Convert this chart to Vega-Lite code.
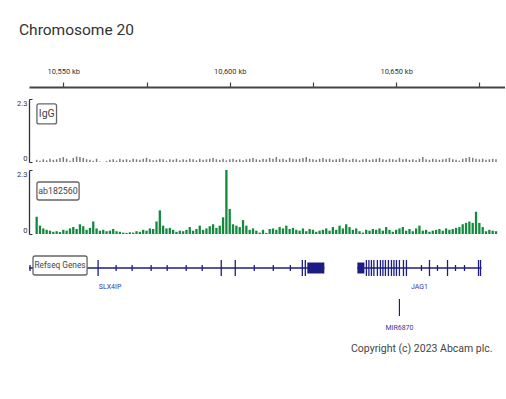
{
  "$schema": "https://vega.github.io/schema/vega-lite/v6.json",
  "background": "white",
  "padding": {"left": 16, "top": 22, "right": 0, "bottom": 0},
  "title": {"text": "Chromosome 20", "anchor": "start", "frame": "group", "fontSize": 15.5, "font": "Roboto", "fontWeight": "normal", "color": "#333333", "dx": -10, "offset": 29},
  "config": {"view": {"stroke": null}, "font": "Roboto"},
  "bounds": "flush",
  "spacing": 8,
  "datasets": {
    "signal": [
      {"kb":10542,"ab":0.62,"igg":0.08},{"kb":10543,"ab":0.3,"igg":0.05},{"kb":10544,"ab":0.2,"igg":0.1},{"kb":10545,"ab":0.15,"igg":0.06},{"kb":10546,"ab":0.12,"igg":0.12},{"kb":10547,"ab":0.08,"igg":0.08},{"kb":10548,"ab":0.1,"igg":0.1},{"kb":10549,"ab":0.07,"igg":0.15},{"kb":10550,"ab":0.15,"igg":0.18},{"kb":10551,"ab":0.12,"igg":0.12},
      {"kb":10552,"ab":0.2,"igg":0.05},{"kb":10553,"ab":0.25,"igg":0.15},{"kb":10554,"ab":0.18,"igg":0.2},{"kb":10555,"ab":0.35,"igg":0.18},{"kb":10556,"ab":0.28,"igg":0.15},{"kb":10557,"ab":0.15,"igg":0.1},{"kb":10558,"ab":0.22,"igg":0.08},{"kb":10559,"ab":0.45,"igg":0.05},{"kb":10560,"ab":0.2,"igg":0.12},{"kb":10561,"ab":0.12,"igg":0.02},
      {"kb":10562,"ab":0.15,"igg":0},{"kb":10563,"ab":0.1,"igg":0.03},{"kb":10564,"ab":0.12,"igg":0.08},{"kb":10565,"ab":0.18,"igg":0.1},{"kb":10566,"ab":0.1,"igg":0.05},{"kb":10567,"ab":0.08,"igg":0.12},{"kb":10568,"ab":0.05,"igg":0.08},{"kb":10569,"ab":0.04,"igg":0.1},{"kb":10570,"ab":0.06,"igg":0.06},{"kb":10571,"ab":0.05,"igg":0.12},
      {"kb":10572,"ab":0.1,"igg":0.1},{"kb":10573,"ab":0.08,"igg":0.08},{"kb":10574,"ab":0.15,"igg":0.12},{"kb":10575,"ab":0.12,"igg":0.15},{"kb":10576,"ab":0.2,"igg":0.1},{"kb":10577,"ab":0.18,"igg":0.06},{"kb":10578,"ab":0.45,"igg":0.08},{"kb":10579,"ab":0.85,"igg":0.12},{"kb":10580,"ab":0.3,"igg":0.1},{"kb":10581,"ab":0.2,"igg":0.05},
      {"kb":10582,"ab":0.22,"igg":0.1},{"kb":10583,"ab":0.15,"igg":0.08},{"kb":10584,"ab":0.08,"igg":0.12},{"kb":10585,"ab":0.12,"igg":0.06},{"kb":10586,"ab":0.1,"igg":0.1},{"kb":10587,"ab":0.15,"igg":0.08},{"kb":10588,"ab":0.25,"igg":0.12},{"kb":10589,"ab":0.12,"igg":0.1},{"kb":10590,"ab":0.18,"igg":0.06},{"kb":10591,"ab":0.3,"igg":0.12},
      {"kb":10592,"ab":0.15,"igg":0.08},{"kb":10593,"ab":0.2,"igg":0.1},{"kb":10594,"ab":0.28,"igg":0.12},{"kb":10595,"ab":0.35,"igg":0.15},{"kb":10596,"ab":0.22,"igg":0.1},{"kb":10597,"ab":0.3,"igg":0.08},{"kb":10598,"ab":0.6,"igg":0.12},{"kb":10599,"ab":2.3,"igg":0.06},{"kb":10600,"ab":0.9,"igg":0.1},{"kb":10601,"ab":0.35,"igg":0.12},
      {"kb":10602,"ab":0.3,"igg":0.08},{"kb":10603,"ab":0.25,"igg":0.1},{"kb":10604,"ab":0.5,"igg":0.06},{"kb":10605,"ab":0.3,"igg":0.1},{"kb":10606,"ab":0.15,"igg":0.12},{"kb":10607,"ab":0.2,"igg":0.15},{"kb":10608,"ab":0.12,"igg":0.1},{"kb":10609,"ab":0.05,"igg":0.08},{"kb":10610,"ab":0.15,"igg":0.12},{"kb":10611,"ab":0.04,"igg":0.1},
      {"kb":10612,"ab":0.18,"igg":0.15},{"kb":10613,"ab":0.2,"igg":0.12},{"kb":10614,"ab":0.15,"igg":0.18},{"kb":10615,"ab":0.25,"igg":0.1},{"kb":10616,"ab":0.2,"igg":0.12},{"kb":10617,"ab":0.3,"igg":0.08},{"kb":10618,"ab":0.18,"igg":0.15},{"kb":10619,"ab":0.22,"igg":0.12},{"kb":10620,"ab":0.15,"igg":0.1},{"kb":10621,"ab":0.12,"igg":0.12},
      {"kb":10622,"ab":0.2,"igg":0.15},{"kb":10623,"ab":0.1,"igg":0.18},{"kb":10624,"ab":0.18,"igg":0.12},{"kb":10625,"ab":0.15,"igg":0.1},{"kb":10626,"ab":0.08,"igg":0.08},{"kb":10627,"ab":0.12,"igg":0.12},{"kb":10628,"ab":0.15,"igg":0.15},{"kb":10629,"ab":0.2,"igg":0.1},{"kb":10630,"ab":0.12,"igg":0.12},{"kb":10631,"ab":0.25,"igg":0.08},
      {"kb":10632,"ab":0.15,"igg":0.1},{"kb":10633,"ab":0.3,"igg":0.12},{"kb":10634,"ab":0.2,"igg":0.15},{"kb":10635,"ab":0.35,"igg":0.1},{"kb":10636,"ab":0.25,"igg":0.08},{"kb":10637,"ab":0.15,"igg":0.12},{"kb":10638,"ab":0.2,"igg":0.1},{"kb":10639,"ab":0.1,"igg":0.06},{"kb":10640,"ab":0.05,"igg":0.1},{"kb":10641,"ab":0.15,"igg":0.12},
      {"kb":10642,"ab":0.12,"igg":0.08},{"kb":10643,"ab":0.18,"igg":0.1},{"kb":10644,"ab":0.15,"igg":0.12},{"kb":10645,"ab":0.2,"igg":0.15},{"kb":10646,"ab":0.12,"igg":0.1},{"kb":10647,"ab":0.25,"igg":0.08},{"kb":10648,"ab":0.15,"igg":0.12},{"kb":10649,"ab":0.08,"igg":0.1},{"kb":10650,"ab":0.15,"igg":0.08},{"kb":10651,"ab":0.2,"igg":0.15},
      {"kb":10652,"ab":0.25,"igg":0.1},{"kb":10653,"ab":0.12,"igg":0.12},{"kb":10654,"ab":0.18,"igg":0.08},{"kb":10655,"ab":0.1,"igg":0.1},{"kb":10656,"ab":0.2,"igg":0.06},{"kb":10657,"ab":0.3,"igg":0.12},{"kb":10658,"ab":0.12,"igg":0.18},{"kb":10659,"ab":0.15,"igg":0.1},{"kb":10660,"ab":0.08,"igg":0.08},{"kb":10661,"ab":0.12,"igg":0.12},
      {"kb":10662,"ab":0.15,"igg":0.1},{"kb":10663,"ab":0.18,"igg":0.08},{"kb":10664,"ab":0.12,"igg":0.1},{"kb":10665,"ab":0.2,"igg":0.12},{"kb":10666,"ab":0.15,"igg":0.15},{"kb":10667,"ab":0.18,"igg":0.1},{"kb":10668,"ab":0.22,"igg":0.08},{"kb":10669,"ab":0.25,"igg":0.05},{"kb":10670,"ab":0.35,"igg":0.12},{"kb":10671,"ab":0.4,"igg":0.15},
      {"kb":10672,"ab":0.45,"igg":0.18},{"kb":10673,"ab":0.4,"igg":0.15},{"kb":10674,"ab":0.8,"igg":0.12},{"kb":10675,"ab":0.4,"igg":0.1},{"kb":10676,"ab":0.25,"igg":0.12},{"kb":10677,"ab":0.1,"igg":0.08},{"kb":10678,"ab":0.15,"igg":0.1},{"kb":10679,"ab":0.12,"igg":0.12},{"kb":10680,"ab":0.1,"igg":0.1}
    ],
    "genes": [
      {"name":"SLX4IP","start":10540.6,"end":10628.07,"label":10565.05},
      {"name":"JAG1","start":10637.78,"end":10674.3,"label":10656.04}
    ],
    "blocks": [
      {"gene":"SLX4IP","start":10623.06,"end":10628.07},
      {"gene":"JAG1","start":10637.78,"end":10639.85}
    ],
    "exons": [
      {"pos":10541.5,"kind":"small"},{"pos":10561.52,"kind":"tall"},{"pos":10566.82,"kind":"small"},{"pos":10571.53,"kind":"small"},{"pos":10577.12,"kind":"small"},{"pos":10581.84,"kind":"small"},{"pos":10587.43,"kind":"small"},{"pos":10592.14,"kind":"small"},{"pos":10597.74,"kind":"tall"},{"pos":10601.86,"kind":"tall"},{"pos":10607.45,"kind":"small"},{"pos":10613.05,"kind":"small"},{"pos":10618.06,"kind":"small"},{"pos":10621.59,"kind":"tall"},{"pos":10622.47,"kind":"tall"},
      {"pos":10640.43,"kind":"tall"},{"pos":10641.17,"kind":"tall"},{"pos":10641.91,"kind":"tall"},{"pos":10642.64,"kind":"tall"},{"pos":10643.67,"kind":"tall"},{"pos":10644.56,"kind":"tall"},{"pos":10645.29,"kind":"tall"},{"pos":10646.03,"kind":"tall"},{"pos":10646.91,"kind":"tall"},{"pos":10647.8,"kind":"tall"},{"pos":10648.53,"kind":"tall"},{"pos":10649.27,"kind":"tall"},{"pos":10650.15,"kind":"tall"},{"pos":10651.33,"kind":"tall"},{"pos":10652.21,"kind":"tall"},
      {"pos":10656.63,"kind":"small"},{"pos":10658.99,"kind":"tall"},{"pos":10661.34,"kind":"small"},{"pos":10664.29,"kind":"tall"},{"pos":10666.64,"kind":"small"},{"pos":10669.29,"kind":"small"},{"pos":10673.41,"kind":"tall"},{"pos":10674.0,"kind":"tall"}
    ],
    "mirna": [{"name":"MIR6870","pos":10650.15}]
  },
  "vconcat": [
    {
      "width": 476, "height": 63,
      "layer": [
        {
          "data": {"name": "signal"},
          "mark": {"type": "bar", "color": "#7a7a7a", "width": 1.5},
          "encoding": {
            "x": {"field": "kb", "type": "quantitative", "scale": {"domain": [10541.2, 10681.2], "nice": false, "zero": false},
                  "axis": {"orient": "top", "offset": 12, "title": null, "values": [10550, 10575, 10600, 10625, 10650, 10675], "labelExpr": "datum.value % 50 == 0 ? format(datum.value, ',') + ' kb' : ''", "domainColor": "#444444", "domainWidth": 2, "tickColor": "#444444", "tickSize": 5, "tickWidth": 1.2, "labelFontSize": 7.5, "labelColor": "#333333", "labelPadding": 7, "grid": false}},
            "y": {"field": "igg", "type": "quantitative", "scale": {"domain": [0, 2.3], "nice": false},
                  "axis": {"title": null, "values": [0, 2.3], "labelExpr": "datum.value == 0 ? '0' : '2.3'", "labelFlush": true, "tickSize": -3, "tickColor": "#333333", "domainColor": "#333333", "domainWidth": 1.3, "labelFontSize": 7.5, "labelColor": "#333333", "labelPadding": 5, "grid": false}}
          }
        },
        {
          "data": {"values": [{}]},
          "mark": {"type": "rect", "fill": "white", "stroke": "#666666", "strokeWidth": 1.3, "cornerRadius": 2},
          "encoding": {
            "x": {"datum": 10542.08, "type": "quantitative"}, "x2": {"datum": 10547.97},
            "y": {"datum": 2.12, "type": "quantitative"}, "y2": {"datum": 1.39}
          }
        },
        {
          "data": {"values": [{}]},
          "mark": {"type": "text", "text": "IgG", "fontSize": 10.5, "color": "#444444", "align": "center", "baseline": "middle"},
          "encoding": {
            "x": {"datum": 10545.03, "type": "quantitative"},
            "y": {"datum": 1.755, "type": "quantitative"}
          }
        }
      ]
    },
    {
      "width": 476, "height": 64,
      "layer": [
        {
          "data": {"name": "signal"},
          "mark": {"type": "bar", "color": "#138a3e", "width": 2.3},
          "encoding": {
            "x": {"field": "kb", "type": "quantitative", "scale": {"domain": [10541.2, 10681.2], "nice": false, "zero": false}, "axis": null},
            "y": {"field": "ab", "type": "quantitative", "scale": {"domain": [0, 2.3], "nice": false},
                  "axis": {"title": null, "values": [0, 2.3], "labelExpr": "datum.value == 0 ? '0' : '2.3'", "labelFlush": true, "tickSize": -3, "tickColor": "#333333", "domainColor": "#333333", "domainWidth": 1.3, "labelFontSize": 7.5, "labelColor": "#333333", "labelPadding": 5, "grid": false}}
          }
        },
        {
          "data": {"values": [{}]},
          "mark": {"type": "rect", "fill": "white", "stroke": "#666666", "strokeWidth": 1.3, "cornerRadius": 2},
          "encoding": {
            "x": {"datum": 10542.08, "type": "quantitative"}, "x2": {"datum": 10554.75},
            "y": {"datum": 1.869, "type": "quantitative"}, "y2": {"datum": 1.222}
          }
        },
        {
          "data": {"values": [{}]},
          "mark": {"type": "text", "text": "ab182560", "fontSize": 8.8, "color": "#444444", "align": "center", "baseline": "middle"},
          "encoding": {
            "x": {"datum": 10548.41, "type": "quantitative"},
            "y": {"datum": 1.545, "type": "quantitative"}
          }
        }
      ]
    },
    {
      "width": 476, "height": 125,
      "layer": [
        {
          "data": {"name": "genes"},
          "mark": {"type": "rule", "color": "#1c1c85", "strokeWidth": 1.5, "clip": true},
          "encoding": {
            "x": {"field": "start", "type": "quantitative", "scale": {"domain": [10541.2, 10681.2], "nice": false, "zero": false}, "axis": null}, "x2": {"field": "end"},
            "y": {"datum": 26, "type": "quantitative", "scale": {"domain": [0, 125], "reverse": true, "nice": false}, "axis": null}
          }
        },
        {
          "data": {"name": "exons"},
          "transform": [{"filter": "datum.kind == 'small'"}],
          "mark": {"type": "rule", "color": "#1c1c85", "strokeWidth": 1.3},
          "encoding": {
            "x": {"field": "pos", "type": "quantitative"},
            "y": {"datum": 23, "type": "quantitative"}, "y2": {"datum": 29}
          }
        },
        {
          "data": {"name": "exons"},
          "transform": [{"filter": "datum.kind == 'tall'"}],
          "mark": {"type": "rule", "color": "#1c1c85", "strokeWidth": 1.3},
          "encoding": {
            "x": {"field": "pos", "type": "quantitative"},
            "y": {"datum": 18, "type": "quantitative"}, "y2": {"datum": 34}
          }
        },
        {
          "data": {"name": "blocks"},
          "mark": {"type": "rect", "color": "#1c1c85"},
          "encoding": {
            "x": {"field": "start", "type": "quantitative"}, "x2": {"field": "end"},
            "y": {"datum": 20.5, "type": "quantitative"}, "y2": {"datum": 31.5}
          }
        },
        {
          "data": {"values": [{}]},
          "mark": {"type": "rect", "fill": "white", "stroke": "#666666", "strokeWidth": 1.3, "cornerRadius": 2},
          "encoding": {
            "x": {"datum": 10542.38, "type": "quantitative"}, "x2": {"datum": 10558.28},
            "y": {"datum": 14, "type": "quantitative"}, "y2": {"datum": 33}
          }
        },
        {
          "data": {"values": [{}]},
          "mark": {"type": "text", "text": "Refseq Genes", "fontSize": 8.3, "color": "#444444", "align": "center", "baseline": "middle"},
          "encoding": {
            "x": {"datum": 10550.33, "type": "quantitative"},
            "y": {"datum": 23.5, "type": "quantitative"}
          }
        },
        {
          "data": {"name": "genes"},
          "mark": {"type": "text", "fontSize": 7, "color": "#3a3a9a", "align": "center", "baseline": "middle"},
          "encoding": {
            "x": {"field": "label", "type": "quantitative"},
            "y": {"datum": 45, "type": "quantitative"},
            "text": {"field": "name"}
          }
        },
        {
          "data": {"name": "mirna"},
          "mark": {"type": "rule", "color": "#1c1c85", "strokeWidth": 1.2},
          "encoding": {
            "x": {"field": "pos", "type": "quantitative"},
            "y": {"datum": 57, "type": "quantitative"}, "y2": {"datum": 74}
          }
        },
        {
          "data": {"name": "mirna"},
          "mark": {"type": "text", "fontSize": 7, "color": "#3a3a9a", "align": "center", "baseline": "middle"},
          "encoding": {
            "x": {"field": "pos", "type": "quantitative"},
            "y": {"datum": 86, "type": "quantitative"},
            "text": {"field": "name"}
          }
        },
        {
          "data": {"values": [{}]},
          "mark": {"type": "text", "text": "Copyright (c) 2023 Abcam plc.", "fontSize": 10.5, "color": "#444444", "align": "right", "baseline": "middle"},
          "encoding": {
            "x": {"datum": 10677.53, "type": "quantitative"},
            "y": {"datum": 107, "type": "quantitative"}
          }
        }
      ]
    }
  ]
}
